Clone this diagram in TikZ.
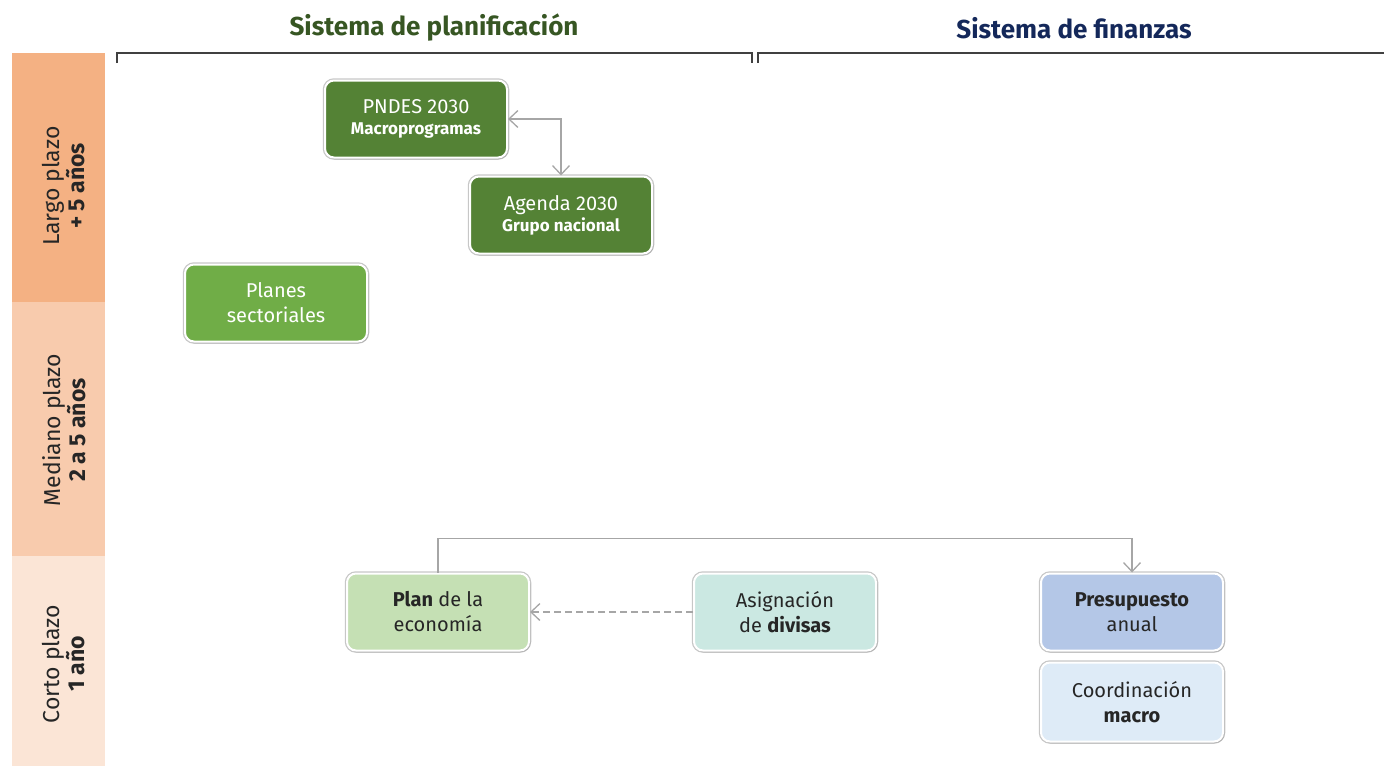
\documentclass[tikz,border=0pt]{standalone}
\usepackage{fontspec}
\setmainfont{Fira Sans}
\usetikzlibrary{arrows.meta,shadows}
\newcommand{\subfont}{\fontsize{17}{20}\selectfont\bfseries}

\begin{document}
\begin{tikzpicture}[x=1pt,y=-1pt,
  box/.style={rectangle,rounded corners=9pt,draw=white,line width=2pt,
    minimum width=182pt,minimum height=77pt,align=center,
    font=\fontsize{20}{25}\selectfont,
    preaction={draw=black!22,line width=4.5pt},
    drop shadow={shadow xshift=1.5pt,shadow yshift=-1.5pt,opacity=0.3}},
  darkbox/.style={box,text=white},
  lightbox/.style={box,text=sp_text},
  conn/.style={draw=sp_arrow,line width=1.3pt,>={Straight Barb[length=9pt,width=17pt]}},
  band/.style={rotate=90,align=center,text=sp_text,font=\fontsize{23}{25}\selectfont},
  title/.style={font=\fontsize{26}{30}\selectfont\bfseries}]

% ------------------------------------------------ colours
\definecolor{sp_band1}{HTML}{F4B183}
\definecolor{sp_band2}{HTML}{F8CBAD}
\definecolor{sp_band3}{HTML}{FBE5D6}
\definecolor{sp_dark}{HTML}{548235}
\definecolor{sp_mid}{HTML}{70AD47}
\definecolor{sp_light}{HTML}{C5E0B4}
\definecolor{sp_teal}{HTML}{CBE8E2}
\definecolor{sp_blue}{HTML}{B4C7E7}
\definecolor{sp_pale}{HTML}{DEEBF7}
\definecolor{sp_green}{HTML}{375623}
\definecolor{sp_navy}{HTML}{14285A}
\definecolor{sp_text}{HTML}{262626}
\definecolor{sp_arrow}{HTML}{A6A6A6}
\definecolor{sp_line}{HTML}{404040}

\useasboundingbox (0,0) rectangle (1384,766);

% time bands
\fill[sp_band1] (12,53) rectangle (105,302);
\fill[sp_band2] (12,302) rectangle (105,556);
\fill[sp_band3] (12,556) rectangle (105,766);
\node[band] (largo) at (64,186) {Largo plazo\\\textbf{+ 5 años}};
\node[band] (mediano) at (64,430) {Mediano plazo\\\textbf{2 a 5 años}};
\node[band] (corto) at (64,664) {Corto plazo\\\textbf{1 año}};

% headers
\node[title,text=sp_green] (plan_t) at (434,28) {Sistema de planificación};
\node[title,text=sp_navy] (fin_t) at (1074,28) {Sistema de finanzas};
\draw[sp_line,line width=1.2pt] (117,63) -- (117,53) -- (752,53) -- (752,63);
\draw[sp_line,line width=1.2pt] (758,63) -- (758,53) -- (1384,53);

% planning boxes
\node[darkbox,fill=sp_dark] (pndes) at (416,119) {PNDES 2030\\[-4pt]{\subfont Macroprogramas}};
\node[darkbox,fill=sp_dark] (agenda) at (561,215) {Agenda 2030\\[-4pt]{\subfont Grupo nacional}};
\node[darkbox,fill=sp_mid] (planes) at (276,303) {Planes\\sectoriales};
\node[lightbox,fill=sp_light] (plan) at (438,612) {\textbf{Plan} de la\\economía};
\node[lightbox,fill=sp_teal] (divisas) at (785,612) {Asignación\\de \textbf{divisas}};

% finance boxes
\node[lightbox,fill=sp_blue] (presupuesto) at (1132,612) {\textbf{Presupuesto}\\anual};
\node[lightbox,fill=sp_pale,minimum height=79pt] (coord) at (1132,702) {Coordinación\\\textbf{macro}};

% connectors
\draw[conn,<->] (pndes.east) -| (agenda.north);
\draw[conn,->] (plan.north) -- ++(0,-34) -| (presupuesto.north);
\draw[conn,dashed,dash pattern=on 7pt off 4pt,->] (divisas) -- (plan);

\end{tikzpicture}
\end{document}
